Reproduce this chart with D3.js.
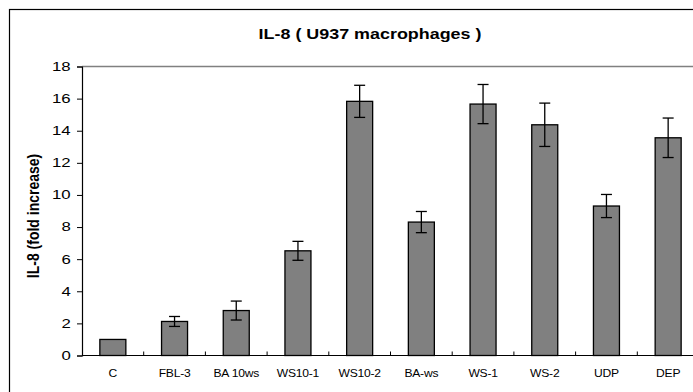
<!DOCTYPE html>
<html>
<head>
<meta charset="utf-8">
<script src="https://cdn.jsdelivr.net/npm/d3@7"></script>
<style>
  body { margin: 0; background: #fff; }
  svg { display: block; font-family: "Liberation Sans", Arial, sans-serif; }
</style>
</head>
<body>
<svg width="693" height="392"></svg>
<script>
// categories and values
let categories = ["C", "FBL-3", "BA 10ws", "WS10-1", "WS10-2", "BA-ws", "WS-1", "WS-2", "UDP", "DEP"];
let values = [1.0, 2.12, 2.8, 6.52, 15.83, 8.31, 15.66, 14.37, 9.31, 13.56];
let errors = [0, 0.31, 0.59, 0.59, 1.0, 0.66, 1.22, 1.35, 0.72, 1.23];
let yTicks = [0, 2, 4, 6, 8, 10, 12, 14, 16, 18];

let title_text = "IL-8 ( U937 macrophages )";
let y_title_text = "IL-8 (fold increase)";

// the original picture is stretched sideways, so text gets a little x scale
let STRETCH = 1.28;

// plot box, right edge runs off the picture like the original
var margin = { top: 66.5, left: 82 };
let width = 617;
let height = 289;

var svg = d3.select("svg");

// outer chart frame
svg
  .append("rect")
  .attr("x", 9.5)
  .attr("y", 9.5)
  .attr("width", 720)
  .attr("height", 420)
  .attr("fill", "none")
  .attr("stroke", "#000")
  .attr("stroke-width", 1.2);

svg
  .append("text")
  .attr("transform", "translate(370,39) scale(" + STRETCH + ",1)")
  .attr("text-anchor", "middle")
  .attr("font-size", "14px")
  .attr("font-weight", "bold")
  .text(title_text);

var g = svg
  .append("g")
  .attr("transform", "translate(" + margin.left + "," + margin.top + ")");

var xScale = d3
  .scaleBand()
  .domain(categories)
  .range([0, width]);

var yScale = d3
  .scaleLinear()
  .domain([0, 18])
  .range([height, 0]);

// top border of plot area (grey)
g.append("line")
  .attr("x1", 0)
  .attr("x2", width)
  .attr("y1", 0)
  .attr("y2", 0)
  .attr("stroke", "#808080")
  .attr("stroke-width", 1.5);

// y axis
var yAxis = d3
  .axisLeft(yScale)
  .tickValues(yTicks)
  .tickSize(5);

g.append("g")
  .attr("class", "y axis")
  .call(yAxis)
  .call(s => s.select(".domain").attr("stroke", "#000").attr("stroke-width", 1.2))
  .call(s => s.selectAll(".tick line").attr("stroke", "#000"))
  .call(s =>
    s
      .selectAll(".tick text")
      .attr("font-size", "12px")
      .attr("font-family", "Liberation Sans, Arial, sans-serif")
      .attr("fill", "#000")
      .attr("x", -11.3 / 1.4)
      .attr("transform", "scale(1.4,1)")
  );

// bars
g.selectAll(".bar")
  .data(values)
  .enter()
  .append("rect")
  .attr("class", "bar")
  .attr("x", (d, i) => xScale(categories[i]) + xScale.bandwidth() / 2 - 13)
  .attr("width", 26)
  .attr("y", d => yScale(d))
  .attr("height", d => height - yScale(d))
  .attr("fill", "#808080")
  .attr("stroke", "#000")
  .attr("stroke-width", 1.3);

// error bars
var errG = g
  .selectAll(".err")
  .data(values.map((v, i) => ({ v: v, e: errors[i], c: categories[i] })))
  .enter()
  .filter(d => d.e > 0)
  .append("g")
  .attr("class", "err")
  .attr("transform", d => "translate(" + (xScale(d.c) + xScale.bandwidth() / 2) + ",0)");

errG
  .append("line")
  .attr("y1", d => yScale(d.v + d.e))
  .attr("y2", d => yScale(d.v - d.e))
  .attr("stroke", "#000")
  .attr("stroke-width", 1.3);

[1, -1].forEach(sign => {
  errG
    .append("line")
    .attr("x1", -5.5)
    .attr("x2", 5.5)
    .attr("y1", d => yScale(d.v + sign * d.e))
    .attr("y2", d => yScale(d.v + sign * d.e))
    .attr("stroke", "#000")
    .attr("stroke-width", 1.3);
});

// x axis, ticks between categories pointing up
g.append("line")
  .attr("x1", 0)
  .attr("x2", width)
  .attr("y1", height)
  .attr("y2", height)
  .attr("stroke", "#000")
  .attr("stroke-width", 1.2);

g.selectAll(".xtick")
  .data(categories.slice(1))
  .enter()
  .append("line")
  .attr("class", "xtick")
  .attr("x1", d => xScale(d))
  .attr("x2", d => xScale(d))
  .attr("y1", height)
  .attr("y2", height - 4)
  .attr("stroke", "#000");

g.selectAll(".xlabel")
  .data(categories)
  .enter()
  .append("text")
  .attr("class", "xlabel")
  .attr("transform", d => "translate(" + (xScale(d) + xScale.bandwidth() / 2) + "," + (height + 21.5) + ") scale(1.1,1)")
  .attr("text-anchor", "middle")
  .attr("font-size", "11px")
  .attr("letter-spacing", "-0.2px")
  .text(d => d);

// y title
svg
  .append("text")
  .attr("transform", "translate(39," + 216 + ") rotate(-90) scale(1,1.15)")
  .attr("text-anchor", "middle")
  .attr("font-size", "14px")
  .attr("font-weight", "bold")
  .text(y_title_text);
</script>
</body>
</html>
